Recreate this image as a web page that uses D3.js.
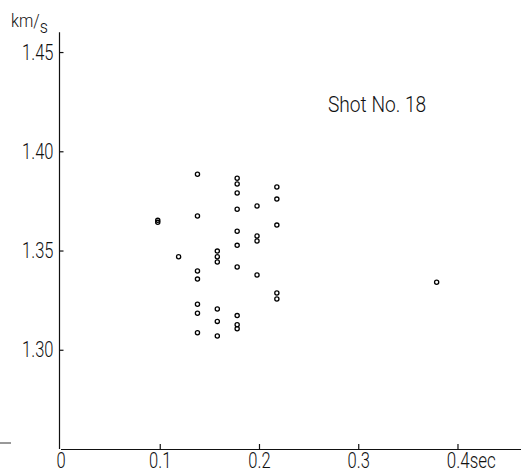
<!DOCTYPE html>
<html>
<head>
<meta charset="utf-8">
<script src="https://cdnjs.cloudflare.com/ajax/libs/d3/7.8.5/d3.min.js"></script>
<style>
  html, body { margin: 0; padding: 0; background: #fff; }
  svg text { font-family: Roboto, "Liberation Sans", sans-serif; font-weight: 300; fill: #111; }
  .axis path, .axis line { stroke: #111; stroke-width: 1.2px; }
  .axis text { font-size: 22px; }
</style>
</head>
<body>
<script>
// columns of measurements (time in sec) and velocities read at each one (km/s)
const times = [0.098, 0.119, 0.138, 0.158, 0.178, 0.198, 0.218, 0.379]
const velocities = [
    [1.3652, 1.3642],
    [1.3469],
    [1.3884, 1.3674, 1.3397, 1.3356, 1.3229, 1.3184, 1.3086],
    [1.3497, 1.3469, 1.3442, 1.3205, 1.3143, 1.3069],
    [1.3864, 1.3835, 1.3790, 1.3708, 1.3597, 1.3526, 1.3417, 1.3172, 1.3126, 1.3106],
    [1.3724, 1.3573, 1.3548, 1.3377],
    [1.3820, 1.3759, 1.3628, 1.3286, 1.3256],
    [1.3340]
]
const xTicks = [0, 0.1, 0.2, 0.3, 0.4]
const yTicks = [1.30, 1.35, 1.40, 1.45]
const title = 'Shot No. 18'

const points = []
times.forEach((t, i) => {
    velocities[i].forEach(v => points.push({ t: t, v: v }))
})

let width = 521, height = 472

// lettering in the original is narrow, so squeeze the glyphs a bit
const condense = (sel, k) => sel.each(function() {
    this.setAttribute("textLength", this.getComputedTextLength() * k)
    this.setAttribute("lengthAdjust", "spacingAndGlyphs")
})

let svg = d3.select("body").append("svg")
    .attr("width", width)
    .attr("height", height)

let x = d3.scaleLinear().domain([0, 0.464]).range([60.5, 521])
let y = d3.scaleLinear().domain([1.25, 1.46]).range([449, 32.2])

// y axis, ticks pointing inward
svg.append("g")
    .attr("class", "axis axis--y")
    .attr("transform", "translate(59.5,0)")
    .call(d3.axisLeft(y).tickValues(yTicks).tickSize(-4).tickSizeOuter(0).tickPadding(6)
        .tickFormat(d3.format(".2f")))
    .call(g => g.select(".domain").attr("d", "M0," + y(1.46) + "V" + y(1.25)))
    .call(g => condense(g.selectAll("text"), 0.75))

// x axis
let xAxis = svg.append("g")
    .attr("class", "axis axis--x")
    .attr("transform", "translate(0,449)")
    .call(d3.axisBottom(x).tickValues(xTicks).tickSize(-5).tickSizeOuter(0).tickPadding(3)
        .tickFormat(d => d === 0 ? "0" : d3.format(".1f")(d)))
    .call(g => condense(g.selectAll("text"), 0.75))
xAxis.selectAll(".tick").filter(d => d === 0).select("line").remove()

// last label carries the unit: keep "0.4" centred on its tick, "sec" after it
let lastLabel = xAxis.selectAll(".tick").filter(d => d === 0.4).select("text")
let half = +lastLabel.attr("textLength") / 2
lastLabel.attr("textLength", null)
    .attr("lengthAdjust", null)
    .attr("text-anchor", "start")
    .attr("x", 0)
    .attr("transform", "translate(" + (-half) + ",0) scale(0.77,1)")
    .text("0.4sec")

// unit on the y axis
let unit = svg.append("text")
    .attr("transform", "translate(11,27) scale(0.85,1)")
    .style("font-size", "19px")
unit.append("tspan").text("km/")
unit.append("tspan").attr("dy", 6).text("s")

// stray short mark at the left edge
svg.append("line")
    .attr("x1", 0).attr("x2", 11)
    .attr("y1", 443).attr("y2", 443)
    .attr("stroke", "#333").attr("stroke-width", 1)

let label = svg.append("text")
    .attr("x", 328)
    .attr("y", 112)
    .style("font-size", "22px")
    .text(title)
condense(label, 0.87)

svg.append("g")
    .selectAll(".point")
    .data(points).enter()
    .append("circle")
    .attr("class", "point")
    .attr("cx", d => x(d.t))
    .attr("cy", d => y(d.v))
    .attr("r", 2.1)
    .attr("fill", "none")
    .attr("stroke", "#000")
    .attr("stroke-width", 1.3)
</script>
</body>
</html>
